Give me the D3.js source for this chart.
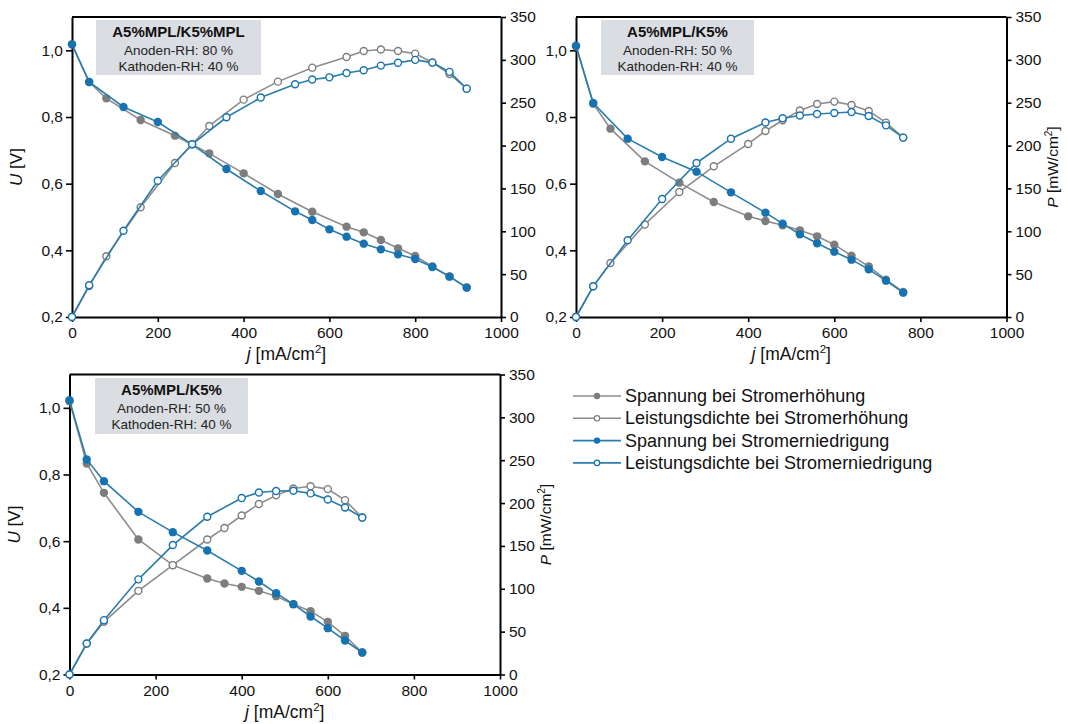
<!DOCTYPE html>
<html>
<head>
<meta charset="utf-8">
<script src="https://cdn.jsdelivr.net/npm/d3@7"></script>
<style>
  html, body { margin: 0; padding: 0; background: #fff; }
  svg { display: block; font-family: "Liberation Sans", Arial, sans-serif; }
</style>
</head>
<body>
<svg id="chart" width="1068" height="724"></svg>
<script>
// Polarisation and power density curves, three measurement series

// ---- shared ticks ----
const xTicks = [0, 200, 400, 600, 800, 1000];
const uTicks = [0.2, 0.4, 0.6, 0.8, 1.0];
const pTicks = [0, 50, 100, 150, 200, 250, 300, 350];

// ---- Panel 1: A5%MPL/K5%MPL, Anoden-RH 80 % ----
const j1Up = [0, 40, 80, 160, 240, 320, 400, 480, 560, 640, 680, 720, 760, 800, 840, 880, 920];
const u1Up = [1.018, 0.905, 0.856, 0.791, 0.744, 0.691, 0.631, 0.569, 0.516, 0.471, 0.454, 0.431, 0.406, 0.383, 0.352, 0.322, 0.289];
const p1Up = [0, 36, 70.8, 128, 179.7, 222.9, 253.6, 274.6, 290.9, 303.4, 310.4, 312, 310.4, 307.3, 297, 283.5, 266.4];
const j1Down = [0, 40, 120, 200, 280, 360, 440, 520, 560, 600, 640, 680, 720, 760, 800, 840, 880, 920];
const u1Down = [1.018, 0.905, 0.83, 0.785, 0.718, 0.644, 0.578, 0.517, 0.491, 0.463, 0.441, 0.42, 0.403, 0.388, 0.374, 0.35, 0.321, 0.288];
const p1Down = [0, 37, 100.7, 159, 201.5, 233, 256, 271.5, 277, 279.6, 284.7, 287.8, 293.3, 296.6, 300, 296.8, 286, 266.4];

// ---- Panel 2: A5%MPL/K5%, Anoden-RH 50 % ----
const j2Up = [0, 40, 80, 160, 240, 320, 400, 440, 480, 520, 560, 600, 640, 680, 720, 760];
const u2Up = [1.012, 0.84, 0.765, 0.667, 0.603, 0.545, 0.502, 0.488, 0.475, 0.46, 0.442, 0.417, 0.384, 0.352, 0.312, 0.275];
const p2Up = [0, 35.8, 63, 108, 145.8, 175.8, 201.9, 217, 229.5, 241, 248.5, 251.3, 247.4, 240.4, 226.8, 209.3];
const j2Down = [0, 40, 120, 200, 280, 360, 440, 480, 520, 560, 600, 640, 680, 720, 760];
const u2Down = [1.014, 0.842, 0.735, 0.68, 0.636, 0.574, 0.513, 0.48, 0.448, 0.421, 0.396, 0.372, 0.343, 0.309, 0.273];
const p2Down = [0, 35.8, 89.5, 137.7, 179.7, 208, 227, 231.8, 235, 236.9, 238, 239.2, 234.5, 223.6, 209.3];

// ---- Panel 3: A5%MPL/K5%, Anoden-RH 50 % ----
const j3Up = [0, 40, 80, 160, 240, 320, 360, 400, 440, 480, 520, 560, 600, 640, 680];
const u3Up = [1.02, 0.833, 0.745, 0.605, 0.528, 0.488, 0.473, 0.463, 0.451, 0.435, 0.411, 0.39, 0.358, 0.316, 0.266];
const p3Up = [0, 36, 61.5, 97.6, 127.6, 157.5, 171, 185.5, 199, 209, 217, 219.7, 216.3, 203.4, 183.2];
const j3Down = [0, 40, 80, 160, 240, 320, 400, 440, 480, 520, 560, 600, 640, 680];
const u3Down = [1.023, 0.845, 0.78, 0.688, 0.627, 0.572, 0.511, 0.479, 0.444, 0.411, 0.374, 0.339, 0.302, 0.266];
const p3Down = [0, 36.2, 63.4, 111, 151, 184, 206, 212.4, 214, 214.3, 211.3, 204.2, 194.9, 183.2];

// ---- annotation texts ----
const titles = ["A5%MPL/K5%MPL", "A5%MPL/K5%", "A5%MPL/K5%"];
const anodeRH = ["Anoden-RH: 80 %", "Anoden-RH: 50 %", "Anoden-RH: 50 %"];
const cathodeRH = ["Kathoden-RH: 40 %", "Kathoden-RH: 40 %", "Kathoden-RH: 40 %"];

// ---- legend ----
const legendLabels = [
  "Spannung bei Stromerhöhung",
  "Leistungsdichte bei Stromerhöhung",
  "Spannung bei Stromerniedrigung",
  "Leistungsdichte bei Stromerniedrigung"
];

const GRAY_LINE = "#8d8d8d", GRAY_MARK = "#7d7d7d";
const BLUE_LINE = "#2a7eab", BLUE_MARK = "#1672b0";

const svg = d3.select("#chart");
const fmtComma = d => d3.format(".1f")(d).replace(".", ",");

function zip(xs, ys) { return xs.map((x, i) => ({ x, y: ys[i] })); }

function drawPanel(cfg) {
  const g = svg.append("g");
  const x = d3.scaleLinear().domain([0, 1000]).range([cfg.left, cfg.right]);
  const yU = d3.scaleLinear().domain([0.2, 1.1]).range([cfg.bottom, cfg.top]);
  const yP = d3.scaleLinear().domain([0, 350]).range([cfg.bottom, cfg.top]);

  // frame
  g.append("line").attr("x1", cfg.left).attr("x2", cfg.right)
    .attr("y1", cfg.top).attr("y2", cfg.top)
    .attr("stroke", "#000").attr("stroke-width", 2);

  // annotation box
  const bx = cfg.box;
  g.append("rect").attr("x", bx.x).attr("y", bx.y).attr("width", bx.w).attr("height", bx.h)
    .attr("fill", "#dadde1");
  const cx = bx.x + bx.w / 2;
  g.append("text").attr("x", cx).attr("y", bx.y + 17).attr("text-anchor", "middle")
    .attr("font-size", 15).attr("font-weight", "bold").attr("fill", "#111").text(cfg.title);
  g.append("text").attr("x", cx).attr("y", bx.y + 34.5).attr("text-anchor", "middle")
    .attr("font-size", 13.5).attr("fill", "#222").text(cfg.anode);
  g.append("text").attr("x", cx).attr("y", bx.y + 51).attr("text-anchor", "middle")
    .attr("font-size", 13.5).attr("fill", "#222").text(cfg.cathode);

  // axes
  const axStyle = sel => {
    sel.select(".domain").attr("stroke-width", 2).attr("stroke", "#000");
    sel.selectAll(".tick line").attr("stroke-width", 1.6).attr("stroke", "#000");
    sel.selectAll(".tick text").attr("font-size", 15.5).attr("fill", "#111")
      .attr("font-family", "'Liberation Sans', Arial, sans-serif");
  };
  g.append("g").attr("transform", `translate(0,${cfg.bottom})`)
    .call(d3.axisBottom(x).tickValues(xTicks).tickSize(5).tickSizeOuter(0).tickPadding(5).tickFormat(d3.format("d")))
    .call(axStyle);
  g.append("g").attr("transform", `translate(${cfg.left},0)`)
    .call(d3.axisLeft(yU).tickValues(uTicks).tickSize(6).tickSizeOuter(0).tickPadding(3).tickFormat(fmtComma))
    .call(axStyle);
  g.append("g").attr("transform", `translate(${cfg.right},0)`)
    .call(d3.axisRight(yP).tickValues(pTicks).tickSize(5).tickSizeOuter(0).tickPadding(4).tickFormat(d3.format("d")))
    .call(axStyle);

  // x-axis title
  const xt = g.append("text").attr("x", (cfg.left + cfg.right) / 2).attr("y", cfg.bottom + 43)
    .attr("text-anchor", "middle").attr("font-size", 17.5).attr("fill", "#111");
  xt.append("tspan").attr("font-style", "italic").text("j");
  xt.append("tspan").text(" [mA/cm");
  xt.append("tspan").attr("font-size", 11.5).attr("dy", -7).text("2");
  xt.append("tspan").attr("dy", 7).text("]");

  if (cfg.uLabel) {
    const t = g.append("text")
      .attr("transform", `translate(${cfg.left - 50},${(cfg.top + cfg.bottom) / 2}) rotate(-90)`)
      .attr("text-anchor", "middle").attr("font-size", 17).attr("fill", "#111");
    t.append("tspan").attr("font-style", "italic").text("U");
    t.append("tspan").text(" [V]");
  }
  if (cfg.pLabel) {
    const t = g.append("text")
      .attr("transform", `translate(${cfg.right + 51},${(cfg.top + cfg.bottom) / 2}) rotate(-90)`)
      .attr("text-anchor", "middle").attr("font-size", 15.5).attr("fill", "#111");
    t.append("tspan").attr("font-style", "italic").text("P");
    t.append("tspan").text(" [mW/cm");
    t.append("tspan").attr("font-size", 10).attr("dy", -6).text("2");
    t.append("tspan").attr("dy", 6).text("]");
  }

  const series = [
    { pts: zip(cfg.jUp, cfg.uUp), y: yU, line: GRAY_LINE, mark: GRAY_MARK, filled: true },
    { pts: zip(cfg.jUp, cfg.pUp), y: yP, line: GRAY_LINE, mark: GRAY_MARK, filled: false },
    { pts: zip(cfg.jDown, cfg.uDown), y: yU, line: BLUE_LINE, mark: BLUE_MARK, filled: true },
    { pts: zip(cfg.jDown, cfg.pDown), y: yP, line: BLUE_LINE, mark: BLUE_MARK, filled: false }
  ];
  series.forEach(s => {
    const line = d3.line().x(d => x(d.x)).y(d => s.y(d.y));
    g.append("path").datum(s.pts).attr("d", line).attr("fill", "none")
      .attr("stroke", s.line).attr("stroke-width", 1.6);
    g.selectAll(null).data(s.pts).enter().append("circle")
      .attr("cx", d => x(d.x)).attr("cy", d => s.y(d.y))
      .attr("r", s.filled ? 4.2 : 3.5)
      .attr("fill", s.filled ? s.mark : "#fff")
      .attr("stroke", s.mark).attr("stroke-width", s.filled ? 0 : 1.4);
  });
}

drawPanel({
  left: 72, right: 501, top: 17, bottom: 317,
  box: { x: 96, y: 20, w: 165, h: 55 },
  title: titles[0], anode: anodeRH[0], cathode: cathodeRH[0],
  jUp: j1Up, uUp: u1Up, pUp: p1Up, jDown: j1Down, uDown: u1Down, pDown: p1Down,
  uLabel: true, pLabel: false
});
drawPanel({
  left: 576, right: 1006.5, top: 17, bottom: 317,
  box: { x: 601, y: 20, w: 153, h: 55 },
  title: titles[1], anode: anodeRH[1], cathode: cathodeRH[1],
  jUp: j2Up, uUp: u2Up, pUp: p2Up, jDown: j2Down, uDown: u2Down, pDown: p2Down,
  uLabel: false, pLabel: true
});
drawPanel({
  left: 69.5, right: 500, top: 374.5, bottom: 674.5,
  box: { x: 95, y: 378, w: 153, h: 56 },
  title: titles[2], anode: anodeRH[2], cathode: cathodeRH[2],
  jUp: j3Up, uUp: u3Up, pUp: p3Up, jDown: j3Down, uDown: u3Down, pDown: p3Down,
  uLabel: true, pLabel: true
});

// legend
const legend = svg.append("g");
const legendStyles = [
  { color: GRAY_LINE, mark: GRAY_MARK, filled: true },
  { color: GRAY_LINE, mark: GRAY_MARK, filled: false },
  { color: BLUE_LINE, mark: BLUE_MARK, filled: true },
  { color: BLUE_LINE, mark: BLUE_MARK, filled: false }
];
legendLabels.forEach((label, i) => {
  const y = 396 + i * 22.3;
  const st = legendStyles[i];
  legend.append("line").attr("x1", 573).attr("x2", 621).attr("y1", y).attr("y2", y)
    .attr("stroke", st.color).attr("stroke-width", 1.6);
  legend.append("circle").attr("cx", 597).attr("cy", y).attr("r", st.filled ? 3.2 : 2.7)
    .attr("fill", st.filled ? st.mark : "#fff").attr("stroke", st.mark)
    .attr("stroke-width", st.filled ? 0 : 1.2);
  legend.append("text").attr("x", 625).attr("y", y + 6).attr("font-size", 18)
    .attr("fill", "#111").text(label);
});
</script>
</body>
</html>
